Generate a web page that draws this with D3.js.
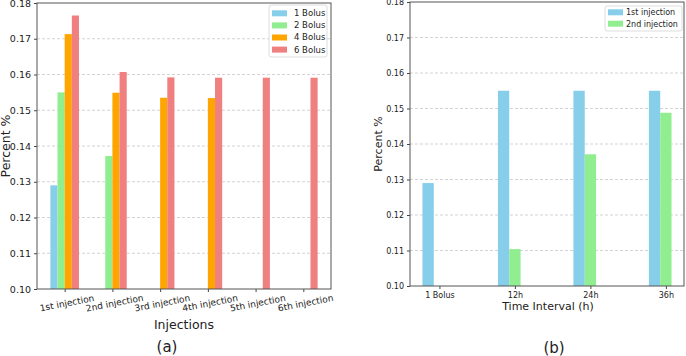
<!DOCTYPE html>
<html><head><meta charset="utf-8">
<script src="https://cdn.jsdelivr.net/npm/d3@7"></script>
<style>
body{margin:0;background:#fff;}
svg text{font-family:"DejaVu Sans",sans-serif;}
</style></head>
<body><svg id="c" width="686" height="356"></svg>
<script>
// Panel (a)
const injections = ["1st injection","2nd injection","3rd injection","4th injection","5th injection","6th injection"];
const bolusSeries = ["1 Bolus","2 Bolus","4 Bolus","6 Bolus"];
const bolus1 = [0.129, null, null, null, null, null];
const bolus2 = [0.155, 0.1372, null, null, null, null];
const bolus4 = [0.1713, 0.1549, 0.1535, 0.1534, null, null];
const bolus6 = [0.1765, 0.1607, 0.1592, 0.1591, 0.1591, 0.1591];
// Panel (b)
const intervals = ["1 Bolus","12h","24h","36h"];
const injSeries = ["1st injection","2nd injection"];
const inj1 = [0.129, 0.155, 0.155, 0.155];
const inj2 = [null, 0.1104, 0.1371, 0.1488];
const yTicks = [0.10,0.11,0.12,0.13,0.14,0.15,0.16,0.17,0.18];

const colors = ["#87CEEB","#90EE90","#FFA500","#F08080"];
const svg = d3.select("#c");

function panel(o){
  const g = svg.append("g");
  const x = d3.scaleLinear().domain(o.xdom).range([o.l,o.r]);
  const y = d3.scaleLinear().domain([0.10,0.18]).range([o.b,o.t]);
  g.selectAll(".grid").data(yTicks.slice(1,-1)).join("line")
    .attr("x1",o.l).attr("x2",o.r).attr("y1",d=>y(d)).attr("y2",d=>y(d))
    .attr("stroke","#c8c8c8").attr("stroke-width",0.8).attr("stroke-dasharray","3,2");
  o.series.forEach((vals,si)=>{
    g.selectAll(null).data(vals.map((v,i)=>({v,i})).filter(d=>d.v!=null)).join("rect")
      .attr("x",d=>x(d.i+o.off[si]))
      .attr("width",d=>x(d.i+o.off[si]+o.w)-x(d.i+o.off[si]))
      .attr("y",d=>y(d.v)).attr("height",d=>y(0.10)-y(d.v))
      .attr("fill",colors[si]);
  });
  const ya = g.append("g").attr("transform",`translate(${o.l},0)`)
    .call(d3.axisLeft(y).tickValues(yTicks).tickFormat(d3.format(".2f")).tickSize(3).tickPadding(3));
  ya.selectAll("text").attr("font-size",o.tf).attr("fill","#222");
  ya.select(".domain").remove();
  const xa = g.append("g").attr("transform",`translate(0,${o.b})`)
    .call(d3.axisBottom(x).tickValues(o.cats.map((c,i)=>i)).tickFormat(i=>o.cats[i]).tickSize(3).tickPadding(3));
  xa.select(".domain").remove();
  xa.selectAll("text").attr("font-size",o.xf).attr("fill","#222");
  if(o.rot){
    xa.selectAll("text").attr("transform",`translate(0,${o.rotDy}) rotate(${o.rot})`).attr("dy","0.71em");
  }
  g.selectAll(".tick line").attr("stroke","#444");
  g.append("rect").attr("x",o.l).attr("y",o.t).attr("width",o.r-o.l).attr("height",o.b-o.t)
    .attr("fill","none").attr("stroke","#555").attr("stroke-width",1);
  g.append("text").attr("transform",`translate(${o.ylx},${(o.t+o.b)/2}) rotate(-90)`)
    .attr("text-anchor","middle").attr("font-size",o.lf).attr("fill","#222").text("Percent %");
  g.append("text").attr("x",o.xlx).attr("y",o.xly).attr("text-anchor","middle")
    .attr("font-size",o.lf).attr("fill","#222").text(o.xlabel);
  g.append("text").attr("x",o.capx).attr("y",o.capy).attr("text-anchor","middle")
    .attr("font-size",15).attr("fill","#222").text(o.cap);
  const lg = g.append("g");
  lg.append("rect").attr("x",o.lgx).attr("y",o.lgy).attr("width",o.lgw).attr("height",o.lgh)
    .attr("fill","#fff").attr("fill-opacity",0.8).attr("stroke","#ddd").attr("rx",2);
  o.names.forEach((n,i)=>{
    const cy = o.lgy+o.lg0+i*o.lgs;
    lg.append("rect").attr("x",o.lgx+3).attr("y",cy-3).attr("width",15).attr("height",6).attr("fill",colors[i]);
    lg.append("text").attr("x",o.lgx+o.lgtx).attr("y",cy).attr("dy","0.35em")
      .attr("font-size",o.lgf).attr("fill","#222").text(n);
  });
}

panel({l:37,r:331,t:3,b:289,xdom:[-0.58,5.58],cats:injections,
  series:[bolus1,bolus2,bolus4,bolus6],off:[-0.3,-0.15,0,0.15],w:0.15,
  tf:9.5,xf:9,rot:-11,rotDy:5,lf:12.5,ylx:10,xlx:184,xly:329,xlabel:"Injections",cap:"(a)",capx:167,capy:352,
  names:bolusSeries,lgx:269,lgy:5,lgw:58,lgh:52,lg0:8.3,lgs:12.1,lgtx:25,lgf:8.5});

panel({l:410,r:684,t:2,b:286,xdom:[-0.39,3.24],cats:intervals,
  series:[inj1,inj2],off:[-0.225,-0.075],w:0.15,
  tf:8,xf:8,rot:0,lf:11,ylx:382,xlx:548,xly:310,xlabel:"Time Interval (h)",cap:"(b)",capx:554,capy:353,
  names:injSeries,lgx:605,lgy:6,lgw:77,lgh:25,lg0:6.3,lgs:11.4,lgtx:21,lgf:8});
</script></body></html>
